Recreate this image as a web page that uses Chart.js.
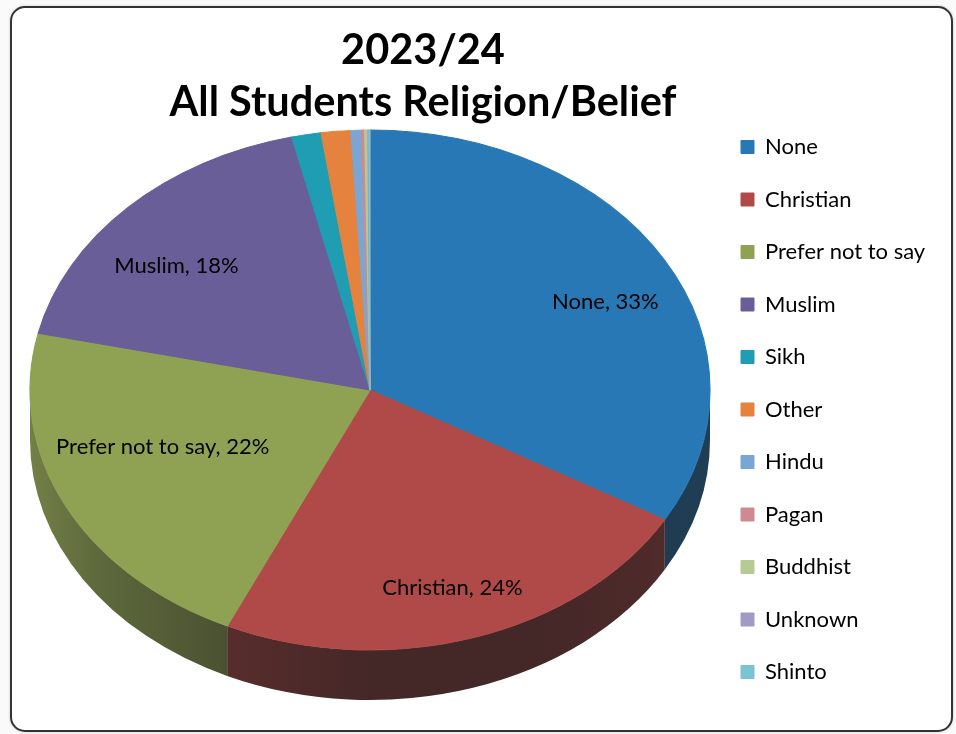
<!DOCTYPE html>
<html>
<head>
<meta charset="utf-8">
<title>All Students Religion/Belief</title>
<script src="https://cdn.jsdelivr.net/npm/chart.js@4.4.1/dist/chart.umd.min.js"></script>
<style>
    html, body { margin: 0; padding: 0; background: #fafafa; }
    body { width: 956px; height: 734px; position: relative; overflow: hidden; }
    .frame {
        position: absolute; left: 10px; top: 6px;
        width: 939px; height: 722px;
        border: 2px solid #333; border-radius: 15px;
        box-shadow: 0 0 3px rgba(0, 0, 0, 0.2);
        background: #fff;
    }
    .chart-box { position: absolute; left: 0; top: 0; width: 956px; height: 734px; }
</style>
</head>
<body>
<div class="frame"></div>
<div class="chart-box"><canvas id="religionChart" width="956" height="734"></canvas></div>
<script>
// religion / belief shares (%)
const titleLines = ['2023/24', 'All Students Religion/Belief'];
const labels = ['None', 'Christian', 'Prefer not to say', 'Muslim', 'Sikh', 'Other', 'Hindu', 'Pagan', 'Buddhist', 'Unknown', 'Shinto'];
const shares = [33.3, 23.6, 21.6, 17.8, 1.4, 1.4, 0.5, 0.15, 0.15, 0.05, 0.05];
const sliceColors = ['#2878b5', '#b04a48', '#8fa254', '#6a5e98', '#1f9db2', '#e5823e',
                     '#7ba6d3', '#cf8a90', '#b4cb93', '#a09ac4', '#7bc4d4'];

// where the flattened pie sits on the page
const tilt = { cx: 370, cy: 390, rx: 340, ry: 260, depth: 50 };
const labelFont = '22px Lato';

// darken a colour towards near-black for the side wall
function shade(hex, t) {
    const n = parseInt(hex.slice(1), 16);
    const c = [n >> 16, (n >> 8) & 255, n & 255].map(v => Math.round(v + (26 - v) * t));
    return `rgb(${c[0]},${c[1]},${c[2]})`;
}

const pie3d = {
    id: 'pie3d',
    beforeDatasetsDraw(chart) {
        const ctx = chart.ctx;
        const arcs = chart.getDatasetMeta(0).data;
        const { x, y, outerRadius: r } = arcs[0];
        ctx.save();
        // squash the library's circle into an ellipse
        ctx.translate(tilt.cx, tilt.cy);
        ctx.scale(tilt.rx / r, tilt.ry / r);
        ctx.translate(-x, -y);

        const drop = tilt.depth * r / tilt.ry;
        arcs.forEach((arc, i) => {
            // only the front half of the rim is visible
            const a0 = Math.max(arc.startAngle, 0);
            const a1 = Math.min(arc.endAngle, Math.PI);
            if (a1 <= a0) return;
            const grad = ctx.createLinearGradient(x - r, 0, x + r, 0);
            [[0, 0.25], [0.1, 0.42], [0.3, 0.6], [0.5, 0.72], [0.75, 0.72], [1, 0.62]]
                .forEach(([p, t]) => grad.addColorStop(p, shade(sliceColors[i], t)));
            ctx.beginPath();
            ctx.arc(x, y, r, a0, a1);
            ctx.arc(x, y + drop, r, a1, a0, true);
            ctx.closePath();
            ctx.fillStyle = grad;
            ctx.fill();
        });
    },
    afterDatasetsDraw(chart) {
        const ctx = chart.ctx;
        ctx.restore();

        // "Name, NN%" labels on the big slices
        const arcs = chart.getDatasetMeta(0).data;
        const total = shares.reduce((s, v) => s + v, 0);
        ctx.save();
        ctx.font = labelFont;
        ctx.fillStyle = '#000';
        ctx.textAlign = 'center';
        ctx.textBaseline = 'middle';
        arcs.forEach((arc, i) => {
            const pct = shares[i] / total * 100;
            if (pct < 5) return;
            const text = `${labels[i]}, ${Math.round(pct)}%`;
            const half = ctx.measureText(text).width / 2;
            const mid = (arc.startAngle + arc.endAngle) / 2;
            const cos = Math.cos(mid);
            // back half of the disc recedes a little
            const sin = Math.sin(mid) * (Math.sin(mid) < 0 ? 0.85 : 1);
            const f0 = 0.8;
            let fx = f0, fy = f0;
            // pull inward (and towards the wide middle) until the text fits
            for (let f = f0; f > 0.3; f -= 0.02) {
                fx = f;
                fy = f * (f / f0) * (f / f0);
                const edge = tilt.rx * Math.sqrt(Math.max(0, 1 - (fy * sin) ** 2)) - 15;
                if (Math.abs(fx * tilt.rx * cos) + half <= edge) break;
            }
            ctx.fillText(text, tilt.cx + fx * tilt.rx * cos, tilt.cy + fy * tilt.ry * sin);
        });
        ctx.restore();
    }
};

// legend width depends on the longest label
const measure = document.createElement('canvas').getContext('2d');
measure.font = labelFont;
const longest = Math.max(...labels.map(t => measure.measureText(t).width));

new Chart(document.getElementById('religionChart'), {
    type: 'pie',
    data: {
        labels: labels,
        datasets: [{
            data: shares,
            backgroundColor: sliceColors,
            borderColor: sliceColors,
            borderWidth: 1,
            clip: false
        }]
    },
    options: {
        responsive: false,
        animation: false,
        layout: {
            padding: { left: 135.5, right: 181 - longest, top: 0, bottom: 20.5 }
        },
        plugins: {
            tooltip: { enabled: false },
            title: {
                display: true,
                text: titleLines,
                fullSize: false,
                color: '#000',
                font: { family: 'Lato', size: 41.5, weight: 'bold', lineHeight: 1.253 },
                padding: { top: 25, bottom: 10 }
            },
            legend: {
                position: 'right',
                align: 'end',
                labels: {
                    boxWidth: 13,
                    boxHeight: 13,
                    padding: 30.5,
                    color: '#000',
                    font: { family: 'Lato', size: 22 }
                }
            }
        }
    },
    plugins: [pie3d]
});
</script>
</body>
</html>
